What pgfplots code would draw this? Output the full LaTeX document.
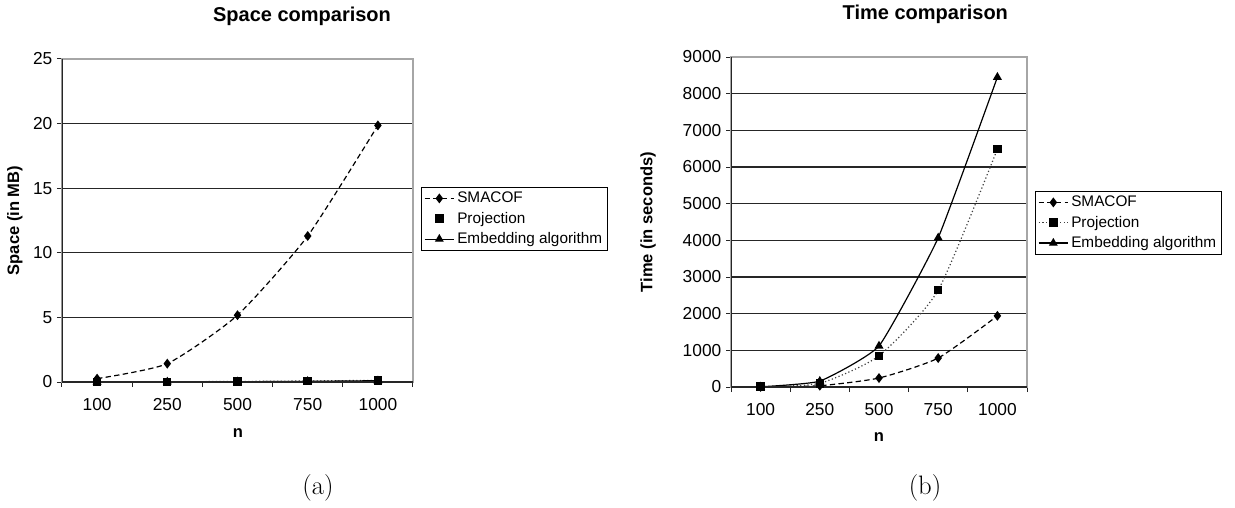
\documentclass[border=0pt]{standalone}
\usepackage{fontspec}
\usepackage{pgfplots}
\pgfplotsset{compat=1.18}
\newfontfamily\arial{Liberation Sans}

\pgfplotsset{
 excel/.style={
  scale only axis,
  xmin=-0.5,xmax=4.5,
  xtick={0,1,2,3,4},
  xticklabels={100,250,500,750,1000},
  minor xtick={-0.5,0.5,1.5,2.5,3.5,4.5},
  major x tick style={draw=none},
  tick align=outside,
  xtick pos=lower, ytick pos=left,
  major tick length=3.75pt, minor tick length=3.75pt,
  every tick/.style={black!85, line width=0.75pt},
  minor tick style={black!85, line width=0.75pt},
  ymajorgrids,
  major grid style={black!85, line width=0.8pt},
  axis line style={gray!70, line width=0.8pt},
  scaled y ticks=false,
  tick label style={font=\arial\fontsize{13}{15}\selectfont},
  xticklabel style={yshift=-5pt},
  /pgf/number format/assume math mode=true,
  /pgf/number format/1000 sep={},
  label style={font=\arial\bfseries\fontsize{12.4}{14}\selectfont},
  legend cell align=left,
  legend style={anchor=north west, draw=black, line width=0.6pt,
    font=\arial\fontsize{11.5}{13}\selectfont, inner xsep=2pt, inner ysep=1.5pt,
    row sep=1.5pt, fill=white},
  legend image code/.code={\draw[mark repeat=2,mark phase=2,#1] plot coordinates {(0pt,0pt)(11pt,0pt)(22pt,0pt)};},
  every axis plot/.append style={line width=0.9pt, mark options={solid, fill=black}},
 },
 smacof/.style={black, dash pattern=on 4pt off 2.5pt, mark=diamond*, mark size=3pt},
 proj/.style={black!75, dash pattern=on 0.9pt off 1.8pt, mark=square*, mark size=2.7pt, mark options={solid, black, fill=black}},
 embed/.style={black, solid, mark=triangle*, mark size=3pt},
}

\begin{document}
\begin{tikzpicture}
\path[use as bounding box] (0,0) rectangle (926.25pt,380.25pt);

% (a) Space comparison
\begin{axis}[excel,
  at={(46.5pt,93.75pt)}, anchor=south west,
  width=263.25pt, height=242.25pt,
  ymin=0, ymax=25, ytick={0,5,10,15,20,25},
  xlabel={n},
  xlabel style={at={(axis description cs:0.501,-0.158)}, anchor=center},
  ylabel={Space (in MB)},
  ylabel style={at={(axis description cs:-0.134,0.5)}, anchor=center},
  legend style={at={(axis description cs:1.0228,0.6037)}},
]
\addplot[smacof, smooth, tension=0.35] coordinates {(0,0.26) (1,1.42) (2,5.17) (3,11.3) (4,19.86)};
\addlegendentry{SMACOF}
\addplot[proj, forget plot] coordinates {(0,0.01) (1,0.02) (2,0.04) (3,0.08) (4,0.13)};
\addlegendimage{only marks, mark=square*, mark size=2.7pt, black, mark options={solid, fill=black}}
\addlegendentry{Projection}
\addplot[embed] coordinates {(0,0.0) (1,0.01) (2,0.02) (3,0.05) (4,0.1)};
\addlegendentry{Embedding algorithm}
\draw[black!85, line width=0.9pt] (rel axis cs:0,1) -- (rel axis cs:0,0) -- (rel axis cs:1,0);
\end{axis}

% (b) Time comparison
\begin{axis}[excel,
  at={(548.25pt,90pt)}, anchor=south west,
  width=222pt, height=247.5pt,
  ymin=0, ymax=9000, ytick={0,1000,2000,3000,4000,5000,6000,7000,8000,9000},
  xlabel={n},
  xlabel style={at={(axis description cs:0.5,-0.1515)}, anchor=center},
  ylabel={Time (in seconds)},
  ylabel style={at={(axis description cs:-0.280,0.5)}, anchor=center},
  legend style={at={(axis description cs:1.027,0.594)}},
]
\addplot[smacof, smooth, tension=0.35] coordinates {(0,2) (1,35) (2,245) (3,790) (4,1940)};
\addlegendentry{SMACOF}
\addplot[proj, smooth, tension=0.35] coordinates {(0,10) (1,100) (2,850) (3,2640) (4,6490)};
\addlegendentry{Projection}
\addplot[embed, smooth, tension=0.25] coordinates {(0,5) (1,160) (2,1120) (3,4070) (4,8450)};
\addlegendentry{Embedding algorithm}
\draw[black!85, line width=0.9pt] (rel axis cs:0,1) -- (rel axis cs:0,0) -- (rel axis cs:1,0);
\end{axis}

\node[font=\arial\bfseries\fontsize{15}{17}\selectfont] at (226.5pt,368.25pt) {Space comparison};
\node[font=\arial\bfseries\fontsize{15}{17}\selectfont] at (694pt,369.75pt) {Time comparison};
\node[font=\fontsize{20}{24}\selectfont] at (238.5pt,14.25pt) {(a)};
\node[font=\fontsize{20}{24}\selectfont] at (693.75pt,14.25pt) {(b)};
\end{tikzpicture}
\end{document}
